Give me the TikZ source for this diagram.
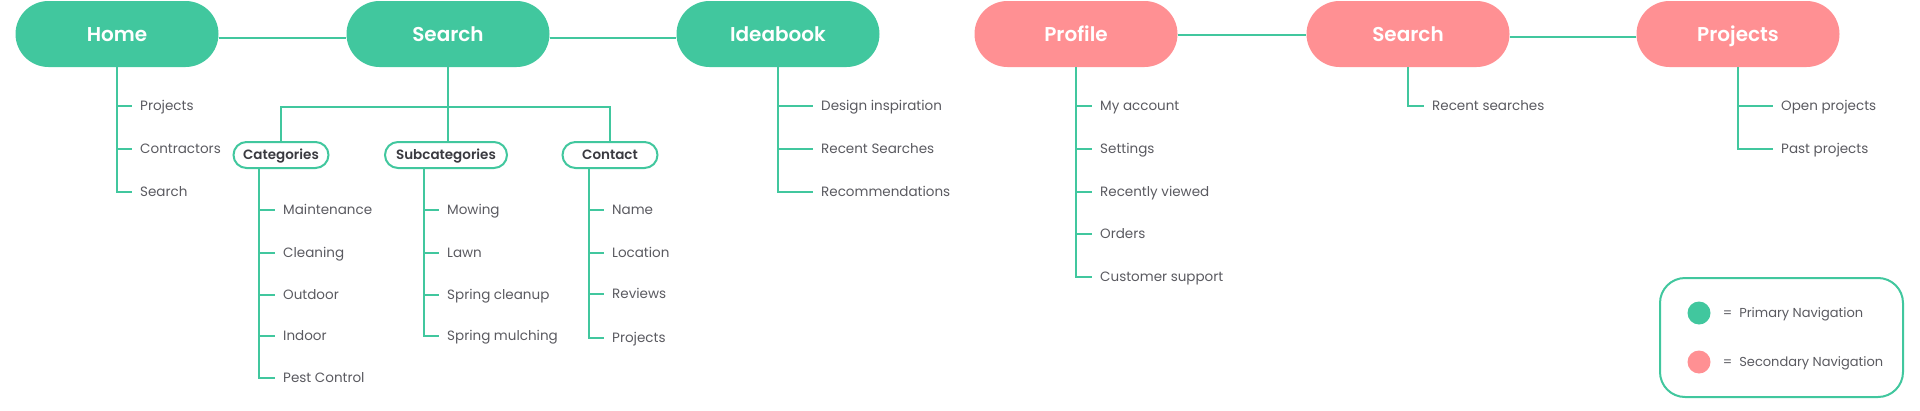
\documentclass[tikz,border=0pt]{standalone}
\usepackage{fontspec}
\setmainfont{Poppins}[BoldFont={Poppins SemiBold}]
\usetikzlibrary{positioning}

\definecolor{navgreen}{HTML}{41C79E}
\definecolor{navpink}{HTML}{FF9093}
\definecolor{leafgray}{HTML}{5A5A60}
\definecolor{boxtext}{HTML}{3A3A40}

\tikzset{
  primary/.style={fill=navgreen, rounded corners=33pt, minimum width=203pt, minimum height=66pt,
    inner sep=0pt, text height=14pt, text depth=0pt, yshift=-1pt, text=white,
    font=\fontsize{20}{24}\selectfont\bfseries},
  secondary/.style={primary, fill=navpink},
  subbox/.style={draw=navgreen, line width=2pt, fill=white, rounded corners=13pt, minimum height=26pt,
    inner sep=0pt, text height=9.5pt, text depth=0pt, text=boxtext,
    font=\fontsize{13.5}{16}\selectfont\bfseries},
  leaf/.style={anchor=west, inner sep=0pt, inner xsep=8pt, text height=9.5pt, text depth=0pt,
    text=leafgray, font=\fontsize{13.5}{16}\selectfont},
  link/.style={navgreen, line width=2pt},
}

\begin{document}
\begin{tikzpicture}[x=1pt, y=-1pt]
    \useasboundingbox (0,0) rectangle (1920,410);

    % Navigazione principale
    \node[primary] (home) at (117,33) {Home};
    \node[primary] (search) at (448,33) {Search};
    \node[primary] (ideabook) at (778,33) {Ideabook};
    \draw[link] ([yshift=-4pt]home.east) -- ([yshift=-4pt]search.west);
    \draw[link] ([yshift=-4pt]search.east) -- ([yshift=-4pt]ideabook.west);

    % Navigazione secondaria
    \node[secondary] (profile) at (1076,33) {Profile};
    \node[secondary] (search2) at (1408,33) {Search};
    \node[secondary] (projects) at (1738,33) {Projects};
    \draw[link] ([yshift=-1pt]profile.east) -- ([yshift=-1pt]search2.west);
    \draw[link] ([yshift=-3pt]search2.east) -- ([yshift=-3pt]projects.west);

    % Home
    \node[leaf] (h1) at (132,106) {Projects};
    \node[leaf] (h2) at (132,149) {Contractors};
    \node[leaf] (h3) at (132,192) {Search};
    \draw[link] (home.south) |- (h3.west)
      (home.south |- h1.west) -- (h1.west) (home.south |- h2.west) -- (h2.west);

    % Search: sottomenu
    \coordinate (bar) at (0,107);
    \node[subbox, minimum width=95pt] (cat) at (281,155) {Categories};
    \node[subbox, minimum width=122pt] (subcat) at (446,155) {Subcategories};
    \node[subbox, minimum width=95pt] (contact) at (610,155) {Contact};
    \draw[link] (search.south) -- (search.south |- subcat.north);
    \draw[link] (cat.north) -- (cat.north |- bar) -| (contact.north);

    % Categories
    \coordinate (cs) at ([xshift=-22pt]cat.south);
    \node[leaf] (c1) at (275,210) {Maintenance};
    \node[leaf] (c2) at (275,253) {Cleaning};
    \node[leaf] (c3) at (275,295) {Outdoor};
    \node[leaf] (c4) at (275,336) {Indoor};
    \node[leaf] (c5) at (275,378) {Pest Control};
    \draw[link] (cs) |- (c5.west)
      (cs |- c1.west) -- (c1.west) (cs |- c2.west) -- (c2.west)
      (cs |- c3.west) -- (c3.west) (cs |- c4.west) -- (c4.west);

    % Subcategories
    \coordinate (ss) at ([xshift=-22pt]subcat.south);
    \node[leaf] (s1) at (439,210) {Mowing};
    \node[leaf] (s2) at (439,253) {Lawn};
    \node[leaf] (s3) at (439,295) {Spring cleanup};
    \node[leaf] (s4) at (439,336) {Spring mulching};
    \draw[link] (ss) |- (s4.west)
      (ss |- s1.west) -- (s1.west) (ss |- s2.west) -- (s2.west) (ss |- s3.west) -- (s3.west);

    % Contact
    \coordinate (ks) at ([xshift=-21pt]contact.south);
    \node[leaf] (k1) at (604,210) {Name};
    \node[leaf] (k2) at (604,253) {Location};
    \node[leaf] (k3) at (604,294) {Reviews};
    \node[leaf] (k4) at (604,338) {Projects};
    \draw[link] (ks) |- (k4.west)
      (ks |- k1.west) -- (k1.west) (ks |- k2.west) -- (k2.west) (ks |- k3.west) -- (k3.west);

    % Ideabook
    \node[leaf] (i1) at (813,106) {Design inspiration};
    \node[leaf] (i2) at (813,149) {Recent Searches};
    \node[leaf] (i3) at (813,192) {Recommendations};
    \draw[link] (ideabook.south) |- (i3.west)
      (ideabook.south |- i1.west) -- (i1.west) (ideabook.south |- i2.west) -- (i2.west);

    % Profile
    \node[leaf] (p1) at (1092,106) {My account};
    \node[leaf] (p2) at (1092,149) {Settings};
    \node[leaf] (p3) at (1092,192) {Recently viewed};
    \node[leaf] (p4) at (1092,234) {Orders};
    \node[leaf] (p5) at (1092,277) {Customer support};
    \draw[link] (profile.south) |- (p5.west)
      (profile.south |- p1.west) -- (p1.west) (profile.south |- p2.west) -- (p2.west)
      (profile.south |- p3.west) -- (p3.west) (profile.south |- p4.west) -- (p4.west);

    % Search (secondaria)
    \node[leaf] (r1) at (1424,106) {Recent searches};
    \draw[link] (search2.south) |- (r1.west);

    % Projects
    \node[leaf] (o1) at (1773,106) {Open projects};
    \node[leaf] (o2) at (1773,149) {Past projects};
    \draw[link] (projects.south) |- (o2.west) (projects.south |- o1.west) -- (o1.west);

    % Legenda
    \node[draw=navgreen, line width=2pt, rounded corners=25pt, minimum width=243pt, minimum height=119pt]
      (legend) at (1781.5,337.5) {};
    \node[circle, fill=navgreen, minimum size=23pt, inner sep=0pt] (dotp) at (1699,313) {};
    \node[circle, fill=navpink, minimum size=23pt, inner sep=0pt] (dots) at (1699,362) {};
    \node[leaf, inner xsep=0pt, right=12pt of dotp, font=\fontsize{13}{16}\selectfont]
      (keyp) {=\hspace{7pt}Primary Navigation};
    \node[leaf, inner xsep=0pt, right=12pt of dots, font=\fontsize{13}{16}\selectfont]
      (keys) {=\hspace{7pt}Secondary Navigation};

\end{tikzpicture}
\end{document}
